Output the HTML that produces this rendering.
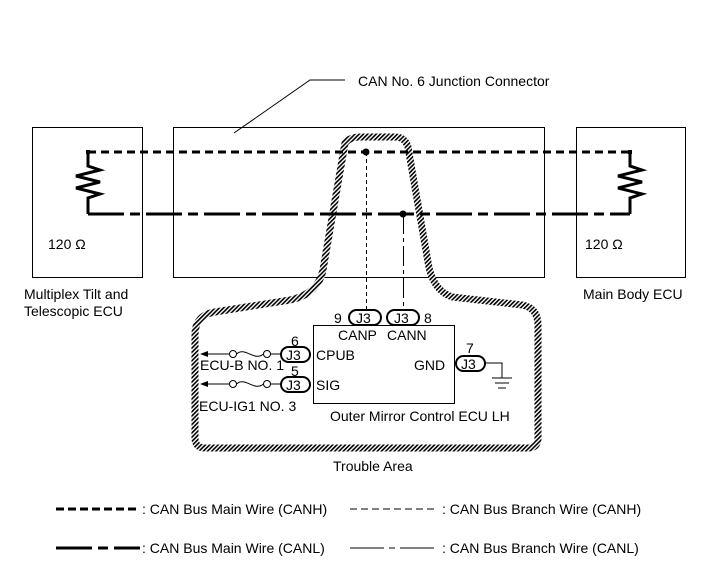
<!DOCTYPE html>
<html><head><meta charset="utf-8"><style>
html,body{margin:0;padding:0;background:#fff;}
svg{display:block;}
text{font-family:"Liberation Sans",Arial,sans-serif;font-size:14px;fill:#000;}
</style></head><body>
<svg width="713" height="581" viewBox="0 0 713 581" xmlns="http://www.w3.org/2000/svg">
<defs>
<pattern id="h" width="3" height="3" patternUnits="userSpaceOnUse" patternTransform="rotate(45)">
<rect width="3" height="3" fill="#fff"/><rect width="1.6" height="3" fill="#000"/>
</pattern>
</defs>
<rect x="32.5" y="127.5" width="110" height="150" fill="none" stroke="#000" stroke-width="1"/>
<rect x="173.5" y="127.5" width="371" height="150" fill="none" stroke="#000" stroke-width="1"/>
<rect x="576.5" y="127.5" width="109" height="150" fill="none" stroke="#000" stroke-width="1"/>
<polyline points="234,133 310,80 345,80" fill="none" stroke="#000" stroke-width="1"/>
<text x="358" y="86">CAN No. 6 Junction Connector</text>
<path d="M345,143 Q350,137 360,137 L395,137 Q405,137 408,147 L428,262 Q432,290 452,297 L522,305 Q538,308 538,325 L538,438 Q538,448 528,448 L205,448 Q195,448 195,438 L195,335 Q195,315 215,312 L290,300 Q318,294 323,270 Z" fill="none" stroke="url(#h)" stroke-width="7"/>
<path d="M88,152 L630,152" stroke="#000" stroke-width="3" stroke-dasharray="8,5" fill="none"/>
<path d="M88,214 L630,214" stroke="#000" stroke-width="3" stroke-dasharray="36,6,10,6" fill="none"/>
<polyline points="88,152 88,166 100,170 76,176 100,182 76,188 100,194 88,198 88,214" fill="none" stroke="#000" stroke-width="3"/>
<polyline points="630,152 630,166 642,170 618,176 642,182 618,188 642,194 630,198 630,214" fill="none" stroke="#000" stroke-width="3"/>
<rect x="86" y="150" width="4" height="4"/><rect x="628" y="150" width="4" height="4"/>
<text x="48" y="249">120 Ω</text>
<text x="585" y="249">120 Ω</text>
<text x="24" y="299">Multiplex Tilt and</text>
<text x="24" y="316">Telescopic ECU</text>
<text x="583" y="299">Main Body ECU</text>
<circle cx="366" cy="152" r="3.5"/><circle cx="403" cy="214" r="3.5"/>
<line x1="366.5" y1="152" x2="366.5" y2="310" stroke="#000" stroke-width="1" stroke-dasharray="4,3"/>
<line x1="403.5" y1="214" x2="403.5" y2="310" stroke="#000" stroke-width="1" stroke-dasharray="20,4,4,4"/>
<rect x="313.5" y="325.5" width="141" height="78" fill="#fff" stroke="#000" stroke-width="1"/>
<g fill="#fff" stroke="#000" stroke-width="2">
<rect x="349" y="310" width="32" height="15" rx="7.5"/>
<rect x="387" y="310" width="32" height="15" rx="7.5"/>
<rect x="281" y="347" width="29" height="15" rx="7.5"/>
<rect x="281" y="377" width="29" height="15" rx="7.5"/>
<rect x="456" y="356" width="29" height="15" rx="7.5"/>
</g>
<text x="356" y="323">J3</text><text x="394" y="323">J3</text>
<text x="286" y="360">J3</text><text x="286" y="390">J3</text><text x="461" y="369">J3</text>
<text x="334" y="323">9</text><text x="424" y="323">8</text>
<text x="338" y="340">CANP</text><text x="387" y="340">CANN</text>
<text x="291" y="346">6</text><text x="291" y="376">5</text><text x="466" y="353">7</text>
<text x="316" y="360">CPUB</text><text x="316" y="390">SIG</text>
<text x="414" y="370">GND</text>
<text x="330" y="421">Outer Mirror Control ECU LH</text>
<g fill="none" stroke="#000" stroke-width="1">
<line x1="206" y1="354" x2="229" y2="354"/><circle cx="233" cy="354" r="3.5"/>
<path d="M236.5,354 C245,346 254,362 263.5,354"/><circle cx="267" cy="354" r="3.5"/><line x1="270.5" y1="354" x2="281" y2="354"/>
<line x1="206" y1="384" x2="229" y2="384"/><circle cx="233" cy="384" r="3.5"/>
<path d="M236.5,384 C245,376 254,392 263.5,384"/><circle cx="267" cy="384" r="3.5"/><line x1="270.5" y1="384" x2="281" y2="384"/>
<polyline points="485,363 502,363 502,378"/>
<line x1="492" y1="378" x2="512" y2="378"/><line x1="495" y1="383" x2="509" y2="383"/><line x1="498" y1="388" x2="506" y2="388"/>
</g>
<polygon points="200,354 208,351 208,357"/><polygon points="200,384 208,381 208,387"/>
<text x="200" y="370">ECU-B NO. 1</text>
<text x="199" y="411">ECU-IG1 NO. 3</text>
<text x="333" y="471">Trouble Area</text>
<line x1="56" y1="509" x2="140" y2="509" stroke="#000" stroke-width="3" stroke-dasharray="8,4"/>
<text x="142" y="514">: CAN Bus Main Wire (CANH)</text>
<line x1="350" y1="509" x2="434" y2="509" stroke="#000" stroke-width="1" stroke-dasharray="7,4"/>
<text x="442" y="514">: CAN Bus Branch Wire (CANH)</text>
<line x1="56" y1="548" x2="140" y2="548" stroke="#000" stroke-width="3" stroke-dasharray="36,6,10,6"/>
<text x="142" y="553">: CAN Bus Main Wire (CANL)</text>
<line x1="350" y1="548" x2="434" y2="548" stroke="#000" stroke-width="1" stroke-dasharray="34,5,6,5"/>
<text x="442" y="553">: CAN Bus Branch Wire (CANL)</text>
</svg>
</body></html>
